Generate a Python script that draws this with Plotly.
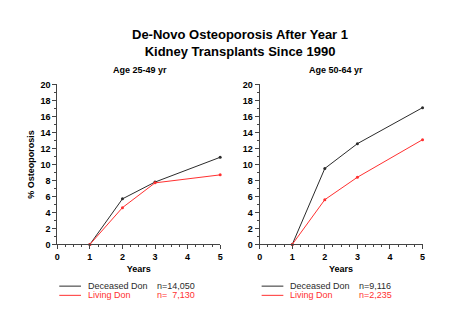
import plotly.graph_objects as go

years = [1, 2, 3, 5]
dec_25_49 = [0, 5.7, 7.8, 10.9]
liv_25_49 = [0, 4.6, 7.7, 8.7]
dec_50_64 = [0, 9.5, 12.6, 17.1]
liv_50_64 = [0, 5.6, 8.4, 13.1]
panel_titles = ["Age 25-49 yr", "Age 50-64 yr"]
series_names = ["Deceased Don", "Living Don"]
n_left = ["n=14,050", "n=  7,130"]
n_right = ["n=9,116", "n=2,235"]
title_lines = ["De-Novo Osteoporosis After Year 1", "Kidney Transplants Since 1990"]

W, H = 467, 327
BLACK = "#2b2b2b"
RED = "#ff3030"
FONT = "Liberation Sans, Arial, sans-serif"

fig = go.Figure()

def px_x(p):
    return p / W

def px_y(p):
    return 1 - p / H

panels = [
    ("x", "y", dec_25_49, liv_25_49),
    ("x2", "y2", dec_50_64, liv_50_64),
]
for xa, ya, dec, liv in panels:
    for vals, col in ((dec, BLACK), (liv, RED)):
        fig.add_trace(go.Scatter(
            x=years, y=vals, mode="lines+markers", xaxis=xa, yaxis=ya,
            line=dict(color=col, width=1), marker=dict(color=col, size=3),
            cliponaxis=False, showlegend=False, hoverinfo="skip"))

ydom = [px_y(247), px_y(82)]
common_x = dict(range=[0, 5], dtick=1, ticks="outside", ticklen=4, tickwidth=1,
                tickcolor="#444", showline=True, linecolor="#444", linewidth=1,
                showgrid=False, zeroline=False,
                minor=dict(dtick=0.25, ticks="outside", ticklen=2, tickcolor="#444"),
                tickfont=dict(family=FONT, size=9, color="black", weight="bold"),
                title=dict(text="Years", standoff=4,
                           font=dict(family=FONT, size=9, color="black", weight="bold")))
common_y = dict(range=[0, 20], dtick=2, ticks="outside", ticklen=4, tickwidth=1,
                tickcolor="#444", showline=True, linecolor="#444", linewidth=1,
                showgrid=False, zeroline=False,
                minor=dict(dtick=1, ticks="outside", ticklen=2, tickcolor="#444"),
                tickfont=dict(family=FONT, size=9, color="black", weight="bold"),
                domain=ydom)

fig.update_layout(
    width=W, height=H, margin=dict(l=0, r=0, t=0, b=0),
    paper_bgcolor="white", plot_bgcolor="white", showlegend=False,
    xaxis=dict(common_x, domain=[px_x(55), px_x(220)], anchor="y"),
    yaxis=dict(common_y, anchor="x",
               title=dict(text="% Osteoporosis", standoff=4,
                          font=dict(family=FONT, size=9, color="black", weight="bold"))),
    xaxis2=dict(common_x, domain=[px_x(260), px_x(425)], anchor="y2"),
    yaxis2=dict(common_y, anchor="x2"),
)

ann = []
ann.append(dict(text="<b>" + "<br>".join(title_lines) + "</b>", x=px_x(240), y=px_y(39.5),
                font=dict(family=FONT, size=13, color="black")))
ann.append(dict(text="<b>" + panel_titles[0] + "</b>", x=px_x(139), y=px_y(67),
                font=dict(family=FONT, size=9, color="black")))
ann.append(dict(text="<b>" + panel_titles[1] + "</b>", x=px_x(337), y=px_y(67),
                font=dict(family=FONT, size=9, color="black")))

shapes = []
for x0, ns in ((57, n_left), (262, n_right)):
    for i, (name, col) in enumerate(zip(series_names, (BLACK, RED))):
        yy = 290 + i * 9.5
        shapes.append(dict(type="line", xref="paper", yref="paper",
                           x0=px_x(x0), x1=px_x(x0 + 22), y0=px_y(yy), y1=px_y(yy),
                           line=dict(color=col, width=1)))
        ann.append(dict(text=name, x=px_x(x0 + 28), y=px_y(yy), xanchor="left",
                        font=dict(family=FONT, size=9, color=col)))
        ann.append(dict(text=ns[i], x=px_x(x0 + 98), y=px_y(yy), xanchor="left",
                        font=dict(family=FONT, size=9, color=col)))

for a in ann:
    a.setdefault("xanchor", "center")
    a.update(xref="paper", yref="paper", yanchor="middle", showarrow=False, borderpad=0)
fig.update_layout(annotations=ann, shapes=shapes)

fig.write_html("out.html")
